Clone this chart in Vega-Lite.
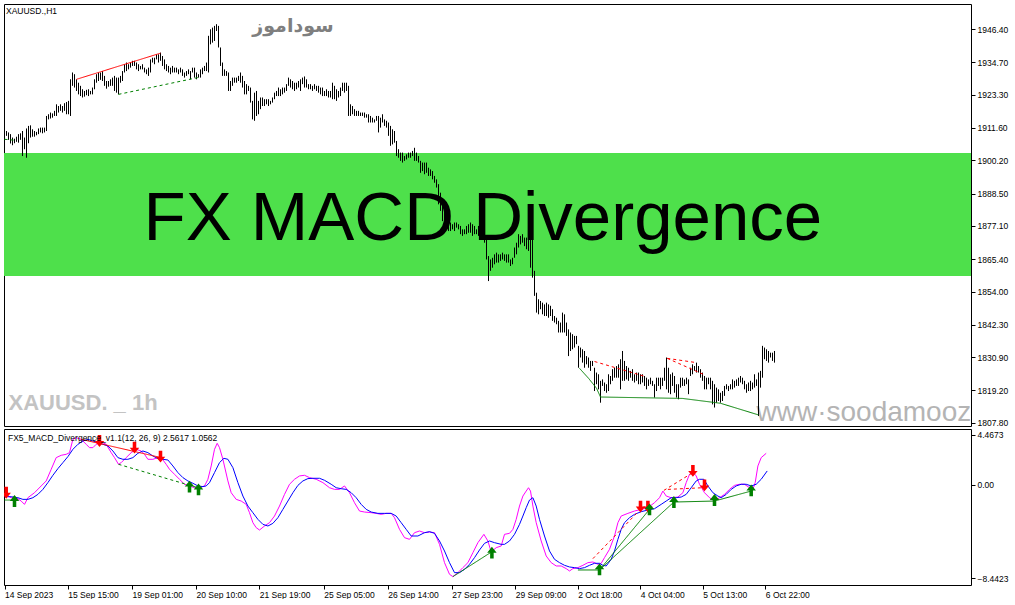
{
  "$schema": "https://vega.github.io/schema/vega-lite/v6.json",
  "background": "white",
  "padding": {"left": 3, "top": 3, "right": 0, "bottom": 0},
  "bounds": "flush",
  "spacing": 3,
  "config": {
    "view": {"stroke": "black", "strokeWidth": 1},
    "axis": {
      "labelFont": "Liberation Sans",
      "labelFontSize": 8.5,
      "labelColor": "black",
      "tickColor": "black",
      "tickSize": 4,
      "domain": false,
      "grid": false,
      "labelOverlap": false
    }
  },
  "datasets": {
    "bars": [
      {"k":0,"h":1911.1,"l":1909.4},{"k":1,"h":1910.5,"l":1908.8},{"k":2,"h":1910.0,"l":1907.4},{"k":3,"h":1909.4,"l":1906.1},
      {"k":4,"h":1908.2,"l":1905.5},{"k":5,"h":1907.8,"l":1906.2},{"k":6,"h":1908.5,"l":1906.7},{"k":7,"h":1909.4,"l":1906.4},
      {"k":8,"h":1909.7,"l":1907.4},{"k":9,"h":1910.5,"l":1901.7},{"k":10,"h":1908.2,"l":1904.1},{"k":11,"h":1911.4,"l":1901.1},
      {"k":12,"h":1912.3,"l":1906.2},{"k":13,"h":1912.5,"l":1908.2},{"k":14,"h":1911.1,"l":1908.5},{"k":15,"h":1910.5,"l":1908.5},
      {"k":16,"h":1910.2,"l":1909.0},{"k":17,"h":1911.4,"l":1909.4},{"k":18,"h":1911.7,"l":1910.0},{"k":19,"h":1911.7,"l":1909.7},
      {"k":20,"h":1911.7,"l":1910.0},{"k":21,"h":1915.8,"l":1910.5},{"k":22,"h":1916.4,"l":1914.6},{"k":23,"h":1917.0,"l":1914.9},
      {"k":24,"h":1916.7,"l":1915.2},{"k":25,"h":1917.6,"l":1915.8},{"k":26,"h":1919.9,"l":1915.8},{"k":27,"h":1919.3,"l":1917.0},
      {"k":28,"h":1919.9,"l":1917.6},{"k":29,"h":1919.3,"l":1917.0},{"k":30,"h":1920.3,"l":1917.6},{"k":31,"h":1920.7,"l":1916.4},
      {"k":32,"h":1921.1,"l":1916.4},{"k":33,"h":1928.7,"l":1915.8},{"k":34,"h":1931.1,"l":1926.4},{"k":35,"h":1930.5,"l":1925.8},
      {"k":36,"h":1928.7,"l":1924.6},{"k":37,"h":1927.5,"l":1923.4},{"k":38,"h":1926.4,"l":1922.8},{"k":39,"h":1925.2,"l":1922.3},
      {"k":40,"h":1924.6,"l":1922.6},{"k":41,"h":1925.0,"l":1923.1},{"k":42,"h":1925.2,"l":1922.8},{"k":43,"h":1924.6,"l":1923.4},
      {"k":44,"h":1925.8,"l":1923.4},{"k":45,"h":1928.7,"l":1925.2},{"k":46,"h":1930.5,"l":1927.5},{"k":47,"h":1931.1,"l":1928.1},
      {"k":48,"h":1931.1,"l":1928.5},{"k":49,"h":1931.6,"l":1928.1},{"k":50,"h":1929.9,"l":1926.4},{"k":51,"h":1928.1,"l":1925.4},
      {"k":52,"h":1928.1,"l":1926.1},{"k":53,"h":1928.7,"l":1926.4},{"k":54,"h":1929.3,"l":1926.4},{"k":55,"h":1929.9,"l":1924.6},
      {"k":56,"h":1929.3,"l":1924.0},{"k":57,"h":1929.3,"l":1923.4},{"k":58,"h":1929.9,"l":1927.5},{"k":59,"h":1931.6,"l":1928.1},
      {"k":60,"h":1934.0,"l":1931.1},{"k":61,"h":1934.6,"l":1931.6},{"k":62,"h":1934.0,"l":1932.2},{"k":63,"h":1934.6,"l":1932.8},
      {"k":64,"h":1935.2,"l":1933.4},{"k":65,"h":1935.2,"l":1933.4},{"k":66,"h":1934.6,"l":1932.2},{"k":67,"h":1934.0,"l":1931.6},
      {"k":68,"h":1933.4,"l":1932.2},{"k":69,"h":1934.0,"l":1932.2},{"k":70,"h":1932.8,"l":1931.1},{"k":71,"h":1932.2,"l":1930.5},
      {"k":72,"h":1932.8,"l":1929.9},{"k":73,"h":1935.7,"l":1931.1},{"k":74,"h":1936.3,"l":1934.6},{"k":75,"h":1936.3,"l":1934.0},
      {"k":76,"h":1937.5,"l":1935.7},{"k":77,"h":1937.5,"l":1934.6},{"k":78,"h":1938.1,"l":1935.2},{"k":79,"h":1936.9,"l":1933.4},
      {"k":80,"h":1935.7,"l":1932.2},{"k":81,"h":1934.0,"l":1931.6},{"k":82,"h":1933.4,"l":1931.1},{"k":83,"h":1932.8,"l":1930.5},
      {"k":84,"h":1933.4,"l":1931.1},{"k":85,"h":1932.8,"l":1931.1},{"k":86,"h":1932.8,"l":1931.1},{"k":87,"h":1932.2,"l":1930.5},
      {"k":88,"h":1932.8,"l":1931.1},{"k":89,"h":1932.2,"l":1929.9},{"k":90,"h":1931.1,"l":1929.3},{"k":91,"h":1931.6,"l":1929.9},
      {"k":92,"h":1932.2,"l":1930.5},{"k":93,"h":1931.6,"l":1928.7},{"k":94,"h":1932.8,"l":1931.1},{"k":95,"h":1932.8,"l":1929.3},
      {"k":96,"h":1931.1,"l":1928.7},{"k":97,"h":1930.5,"l":1929.3},{"k":98,"h":1932.2,"l":1929.3},{"k":99,"h":1932.8,"l":1930.5},
      {"k":100,"h":1933.4,"l":1931.6},{"k":101,"h":1934.6,"l":1931.6},{"k":102,"h":1944.0,"l":1931.1},{"k":103,"h":1946.3,"l":1941.0},
      {"k":104,"h":1946.9,"l":1941.6},{"k":105,"h":1947.5,"l":1942.2},{"k":106,"h":1948.1,"l":1945.7},{"k":107,"h":1947.5,"l":1939.9},
      {"k":108,"h":1939.9,"l":1933.4},{"k":109,"h":1934.6,"l":1929.9},{"k":110,"h":1932.2,"l":1929.9},{"k":111,"h":1931.6,"l":1929.9},
      {"k":112,"h":1931.1,"l":1924.6},{"k":113,"h":1928.1,"l":1924.6},{"k":114,"h":1929.3,"l":1926.4},{"k":115,"h":1929.3,"l":1927.5},
      {"k":116,"h":1929.3,"l":1927.5},{"k":117,"h":1929.9,"l":1928.1},{"k":118,"h":1931.1,"l":1927.5},{"k":119,"h":1929.9,"l":1925.8},
      {"k":120,"h":1928.1,"l":1923.4},{"k":121,"h":1927.0,"l":1923.4},{"k":122,"h":1926.4,"l":1924.6},{"k":123,"h":1925.8,"l":1920.5},
      {"k":124,"h":1921.1,"l":1914.6},{"k":125,"h":1924.0,"l":1914.1},{"k":126,"h":1924.6,"l":1915.8},{"k":127,"h":1921.1,"l":1916.4},
      {"k":128,"h":1922.3,"l":1918.2},{"k":129,"h":1922.3,"l":1919.3},{"k":130,"h":1921.7,"l":1919.3},{"k":131,"h":1921.7,"l":1919.9},
      {"k":132,"h":1921.7,"l":1919.3},{"k":133,"h":1921.1,"l":1919.9},{"k":134,"h":1922.3,"l":1920.5},{"k":135,"h":1924.0,"l":1921.7},
      {"k":136,"h":1924.6,"l":1922.8},{"k":137,"h":1925.8,"l":1922.8},{"k":138,"h":1925.2,"l":1922.8},{"k":139,"h":1925.8,"l":1923.4},
      {"k":140,"h":1925.8,"l":1924.0},{"k":141,"h":1927.0,"l":1924.6},{"k":142,"h":1929.3,"l":1926.4},{"k":143,"h":1928.7,"l":1925.8},
      {"k":144,"h":1928.1,"l":1925.2},{"k":145,"h":1927.5,"l":1924.6},{"k":146,"h":1927.5,"l":1925.2},{"k":147,"h":1928.1,"l":1925.8},
      {"k":148,"h":1928.7,"l":1924.6},{"k":149,"h":1929.3,"l":1927.0},{"k":150,"h":1929.7,"l":1925.8},{"k":151,"h":1928.7,"l":1925.8},
      {"k":152,"h":1927.0,"l":1925.2},{"k":153,"h":1927.0,"l":1925.2},{"k":154,"h":1926.4,"l":1924.6},{"k":155,"h":1927.0,"l":1925.2},
      {"k":156,"h":1926.4,"l":1924.6},{"k":157,"h":1926.4,"l":1924.0},{"k":158,"h":1925.8,"l":1923.4},{"k":159,"h":1925.8,"l":1922.8},
      {"k":160,"h":1924.6,"l":1922.8},{"k":161,"h":1925.2,"l":1922.8},{"k":162,"h":1924.6,"l":1922.3},{"k":163,"h":1924.6,"l":1922.3},
      {"k":164,"h":1927.5,"l":1921.7},{"k":165,"h":1926.4,"l":1921.7},{"k":166,"h":1925.2,"l":1921.1},{"k":167,"h":1924.6,"l":1922.3},
      {"k":168,"h":1925.8,"l":1922.8},{"k":169,"h":1927.5,"l":1924.6},{"k":170,"h":1927.5,"l":1924.0},{"k":171,"h":1927.5,"l":1924.6},
      {"k":172,"h":1926.4,"l":1915.8},{"k":173,"h":1919.9,"l":1915.8},{"k":174,"h":1919.3,"l":1916.4},{"k":175,"h":1918.2,"l":1915.8},
      {"k":176,"h":1917.6,"l":1915.8},{"k":177,"h":1917.6,"l":1915.8},{"k":178,"h":1917.0,"l":1915.8},{"k":179,"h":1917.0,"l":1915.8},
      {"k":180,"h":1917.0,"l":1915.2},{"k":181,"h":1916.4,"l":1915.2},{"k":182,"h":1916.4,"l":1913.5},{"k":183,"h":1915.8,"l":1913.5},
      {"k":184,"h":1915.2,"l":1913.5},{"k":185,"h":1914.6,"l":1913.5},{"k":186,"h":1915.8,"l":1914.1},{"k":187,"h":1915.8,"l":1910.0},
      {"k":188,"h":1915.2,"l":1911.7},{"k":189,"h":1916.4,"l":1913.5},{"k":190,"h":1914.6,"l":1912.3},{"k":191,"h":1914.1,"l":1911.7},
      {"k":192,"h":1913.5,"l":1908.8},{"k":193,"h":1912.3,"l":1905.3},{"k":194,"h":1911.1,"l":1905.8},{"k":195,"h":1910.5,"l":1906.4},
      {"k":196,"h":1907.0,"l":1901.7},{"k":197,"h":1904.1,"l":1901.1},{"k":198,"h":1902.9,"l":1900.0},{"k":199,"h":1902.9,"l":1899.4},
      {"k":200,"h":1901.7,"l":1900.0},{"k":201,"h":1902.3,"l":1900.5},{"k":202,"h":1902.9,"l":1901.1},{"k":203,"h":1902.9,"l":1901.1},
      {"k":204,"h":1903.5,"l":1901.7},{"k":205,"h":1904.6,"l":1900.0},{"k":206,"h":1902.9,"l":1900.0},{"k":207,"h":1901.7,"l":1899.4},
      {"k":208,"h":1900.0,"l":1895.8},{"k":209,"h":1899.4,"l":1896.4},{"k":210,"h":1899.4,"l":1895.3},{"k":211,"h":1899.4,"l":1895.8},
      {"k":212,"h":1897.6,"l":1894.7},{"k":213,"h":1897.0,"l":1894.7},{"k":214,"h":1896.4,"l":1893.5},{"k":215,"h":1894.7,"l":1892.3},
      {"k":216,"h":1893.5,"l":1890.6},{"k":217,"h":1891.8,"l":1884.7},{"k":218,"h":1888.8,"l":1882.4},{"k":219,"h":1885.9,"l":1878.8},
      {"k":220,"h":1882.4,"l":1877.1},{"k":221,"h":1878.8,"l":1875.9},{"k":222,"h":1877.7,"l":1875.3},{"k":223,"h":1878.3,"l":1875.3},
      {"k":224,"h":1877.7,"l":1875.9},{"k":225,"h":1878.3,"l":1875.3},{"k":226,"h":1878.3,"l":1876.5},{"k":227,"h":1877.7,"l":1875.9},
      {"k":228,"h":1877.1,"l":1874.2},{"k":229,"h":1875.9,"l":1873.6},{"k":230,"h":1875.9,"l":1874.2},{"k":231,"h":1877.1,"l":1874.2},
      {"k":232,"h":1877.7,"l":1874.7},{"k":233,"h":1878.3,"l":1874.7},{"k":234,"h":1877.7,"l":1873.6},{"k":235,"h":1877.1,"l":1874.2},
      {"k":236,"h":1875.9,"l":1874.2},{"k":237,"h":1877.1,"l":1873.6},{"k":238,"h":1876.5,"l":1873.6},{"k":239,"h":1877.1,"l":1874.7},
      {"k":240,"h":1876.5,"l":1871.2},{"k":241,"h":1873.6,"l":1865.3},{"k":242,"h":1866.5,"l":1857.7},{"k":243,"h":1865.3,"l":1861.3},
      {"k":244,"h":1865.9,"l":1862.4},{"k":245,"h":1867.1,"l":1863.6},{"k":246,"h":1867.7,"l":1864.2},{"k":247,"h":1867.1,"l":1864.2},
      {"k":248,"h":1867.1,"l":1864.8},{"k":249,"h":1867.7,"l":1865.3},{"k":250,"h":1867.1,"l":1864.8},{"k":251,"h":1867.1,"l":1864.2},
      {"k":252,"h":1867.1,"l":1864.2},{"k":253,"h":1865.3,"l":1863.0},{"k":254,"h":1865.9,"l":1863.6},{"k":255,"h":1869.5,"l":1865.9},
      {"k":256,"h":1871.2,"l":1867.1},{"k":257,"h":1874.2,"l":1869.5},{"k":258,"h":1873.6,"l":1870.6},{"k":259,"h":1874.2,"l":1871.2},
      {"k":260,"h":1873.0,"l":1870.0},{"k":261,"h":1873.0,"l":1868.9},{"k":262,"h":1874.7,"l":1868.3},{"k":263,"h":1874.2,"l":1862.4},
      {"k":264,"h":1873.0,"l":1858.9},{"k":265,"h":1861.3,"l":1852.5},{"k":266,"h":1853.6,"l":1846.6},{"k":267,"h":1851.3,"l":1846.0},
      {"k":268,"h":1850.7,"l":1847.8},{"k":269,"h":1850.1,"l":1846.0},{"k":270,"h":1849.5,"l":1845.4},{"k":271,"h":1850.1,"l":1845.4},
      {"k":272,"h":1849.5,"l":1844.8},{"k":273,"h":1849.0,"l":1845.4},{"k":274,"h":1847.8,"l":1843.7},{"k":275,"h":1845.4,"l":1843.1},
      {"k":276,"h":1844.8,"l":1842.5},{"k":277,"h":1843.7,"l":1839.6},{"k":278,"h":1843.1,"l":1839.6},{"k":279,"h":1846.6,"l":1839.6},
      {"k":280,"h":1846.0,"l":1839.6},{"k":281,"h":1843.1,"l":1838.4},{"k":282,"h":1840.7,"l":1831.3},{"k":283,"h":1839.6,"l":1833.1},
      {"k":284,"h":1839.0,"l":1833.7},{"k":285,"h":1838.4,"l":1834.3},{"k":286,"h":1838.4,"l":1835.5},{"k":287,"h":1834.9,"l":1827.2},
      {"k":288,"h":1834.3,"l":1830.8},{"k":289,"h":1833.7,"l":1829.0},{"k":290,"h":1833.1,"l":1827.2},{"k":291,"h":1831.3,"l":1828.4},
      {"k":292,"h":1830.8,"l":1827.2},{"k":293,"h":1829.6,"l":1826.1},{"k":294,"h":1829.6,"l":1827.8},{"k":295,"h":1827.2,"l":1819.0},
      {"k":296,"h":1825.5,"l":1821.4},{"k":297,"h":1824.9,"l":1819.6},{"k":298,"h":1822.6,"l":1814.9},{"k":299,"h":1823.1,"l":1820.8},
      {"k":300,"h":1822.0,"l":1819.0},{"k":301,"h":1821.4,"l":1818.4},{"k":302,"h":1824.9,"l":1819.0},{"k":303,"h":1824.3,"l":1821.4},
      {"k":304,"h":1826.7,"l":1822.6},{"k":305,"h":1827.2,"l":1823.7},{"k":306,"h":1827.8,"l":1823.7},{"k":307,"h":1828.4,"l":1823.7},
      {"k":308,"h":1830.2,"l":1819.6},{"k":309,"h":1833.1,"l":1822.6},{"k":310,"h":1829.6,"l":1822.6},{"k":311,"h":1827.8,"l":1823.1},
      {"k":312,"h":1827.2,"l":1822.6},{"k":313,"h":1826.1,"l":1823.7},{"k":314,"h":1826.7,"l":1822.6},{"k":315,"h":1824.9,"l":1822.0},
      {"k":316,"h":1825.5,"l":1822.6},{"k":317,"h":1825.5,"l":1821.4},{"k":318,"h":1824.9,"l":1821.4},{"k":319,"h":1824.9,"l":1822.0},
      {"k":320,"h":1824.3,"l":1820.8},{"k":321,"h":1823.7,"l":1819.6},{"k":322,"h":1823.1,"l":1820.8},{"k":323,"h":1823.7,"l":1821.4},
      {"k":324,"h":1822.6,"l":1820.8},{"k":325,"h":1821.4,"l":1816.7},{"k":326,"h":1823.7,"l":1819.0},{"k":327,"h":1823.7,"l":1820.8},
      {"k":328,"h":1823.7,"l":1819.6},{"k":329,"h":1823.7,"l":1820.8},{"k":330,"h":1827.2,"l":1822.6},{"k":331,"h":1830.8,"l":1819.6},
      {"k":332,"h":1827.2,"l":1818.4},{"k":333,"h":1824.9,"l":1817.9},{"k":334,"h":1825.5,"l":1820.8},{"k":335,"h":1824.3,"l":1818.4},
      {"k":336,"h":1821.4,"l":1816.7},{"k":337,"h":1821.4,"l":1816.1},{"k":338,"h":1823.7,"l":1820.2},{"k":339,"h":1823.7,"l":1820.8},
      {"k":340,"h":1823.1,"l":1820.8},{"k":341,"h":1823.7,"l":1821.4},{"k":342,"h":1823.1,"l":1817.9},{"k":343,"h":1827.2,"l":1824.3},
      {"k":344,"h":1828.4,"l":1824.9},{"k":345,"h":1827.8,"l":1826.1},{"k":346,"h":1829.0,"l":1825.5},{"k":347,"h":1827.8,"l":1825.5},
      {"k":348,"h":1826.7,"l":1823.7},{"k":349,"h":1825.5,"l":1822.6},{"k":350,"h":1824.3,"l":1819.6},{"k":351,"h":1823.7,"l":1819.6},
      {"k":352,"h":1823.7,"l":1821.4},{"k":353,"h":1823.7,"l":1819.6},{"k":354,"h":1822.6,"l":1814.3},{"k":355,"h":1821.4,"l":1813.2},
      {"k":356,"h":1820.2,"l":1814.9},{"k":357,"h":1819.6,"l":1815.5},{"k":358,"h":1818.4,"l":1814.9},{"k":359,"h":1819.0,"l":1815.5},
      {"k":360,"h":1820.8,"l":1817.3},{"k":361,"h":1821.4,"l":1819.6},{"k":362,"h":1820.8,"l":1819.0},{"k":363,"h":1821.4,"l":1819.6},
      {"k":364,"h":1823.1,"l":1819.6},{"k":365,"h":1822.6,"l":1820.2},{"k":366,"h":1823.1,"l":1820.8},{"k":367,"h":1823.7,"l":1820.8},
      {"k":368,"h":1824.3,"l":1822.0},{"k":369,"h":1823.7,"l":1821.4},{"k":370,"h":1822.6,"l":1819.6},{"k":371,"h":1821.4,"l":1818.4},
      {"k":372,"h":1822.0,"l":1819.0},{"k":373,"h":1822.6,"l":1819.0},{"k":374,"h":1822.0,"l":1819.6},{"k":375,"h":1824.9,"l":1820.2},
      {"k":376,"h":1823.1,"l":1820.8},{"k":377,"h":1825.5,"l":1810.2},{"k":378,"h":1826.1,"l":1820.2},{"k":379,"h":1834.9,"l":1823.7},
      {"k":380,"h":1834.3,"l":1830.2},{"k":381,"h":1833.7,"l":1829.6},{"k":382,"h":1833.1,"l":1829.0},{"k":383,"h":1832.5,"l":1830.8},
      {"k":384,"h":1832.5,"l":1829.6},{"k":385,"h":1833.1,"l":1829.0}
    ],
    "macd": [
      {"s":"macd","k":0,"v":-0.89},{"s":"macd","k":3.35,"v":-1.19},{"s":"macd","k":5.85,"v":-1.19},{"s":"macd","k":8.35,"v":-1.49},
      {"s":"macd","k":10,"v":-1.79},{"s":"macd","k":11.7,"v":-1.19},{"s":"macd","k":15,"v":-0.74},{"s":"macd","k":18.35,"v":-0.13},
      {"s":"macd","k":20.85,"v":0.32},{"s":"macd","k":23.35,"v":1.37},{"s":"macd","k":25.85,"v":2.42},{"s":"macd","k":28.35,"v":2.63},
      {"s":"macd","k":30.85,"v":2.72},{"s":"macd","k":32.5,"v":2.87},{"s":"macd","k":34.2,"v":4.07},{"s":"macd","k":35.85,"v":4.22},
      {"s":"macd","k":38.35,"v":4.07},{"s":"macd","k":40.85,"v":3.62},{"s":"macd","k":42.5,"v":3.32},{"s":"macd","k":44.2,"v":3.32},
      {"s":"macd","k":45.85,"v":3.62},{"s":"macd","k":48.35,"v":3.83},{"s":"macd","k":50.85,"v":3.62},{"s":"macd","k":53.35,"v":2.87},
      {"s":"macd","k":55,"v":2.42},{"s":"macd","k":57,"v":1.82},{"s":"macd","k":58.35,"v":1.97},{"s":"macd","k":60.85,"v":2.42},
      {"s":"macd","k":63.35,"v":2.87},{"s":"macd","k":65.85,"v":3.17},{"s":"macd","k":68.35,"v":3.02},{"s":"macd","k":70,"v":2.72},
      {"s":"macd","k":71.7,"v":2.27},{"s":"macd","k":74.2,"v":2.27},{"s":"macd","k":76.7,"v":2.42},{"s":"macd","k":78.35,"v":2.42},
      {"s":"macd","k":80.85,"v":1.82},{"s":"macd","k":82.5,"v":1.37},{"s":"macd","k":85,"v":0.92},{"s":"macd","k":87.5,"v":0.47},
      {"s":"macd","k":90,"v":0.02},{"s":"macd","k":92.5,"v":-0.13},{"s":"macd","k":95,"v":-0.29},{"s":"macd","k":97.5,"v":-0.29},
      {"s":"macd","k":100,"v":-0.13},{"s":"macd","k":101.7,"v":0.47},{"s":"macd","k":103.35,"v":1.67},{"s":"macd","k":105,"v":3.17},
      {"s":"macd","k":106.35,"v":3.71},{"s":"macd","k":107.5,"v":3.32},{"s":"macd","k":109.2,"v":2.27},{"s":"macd","k":111.7,"v":0.32},
      {"s":"macd","k":113.35,"v":-0.74},{"s":"macd","k":115.85,"v":-1.34},{"s":"macd","k":118.35,"v":-1.49},{"s":"macd","k":120.85,"v":-1.79},
      {"s":"macd","k":122.5,"v":-2.54},{"s":"macd","k":124.2,"v":-3.44},{"s":"macd","k":125.85,"v":-3.89},{"s":"macd","k":127.5,"v":-4.10},
      {"s":"macd","k":130,"v":-3.74},{"s":"macd","k":132.5,"v":-3.44},{"s":"macd","k":135,"v":-2.84},{"s":"macd","k":137.5,"v":-1.94},
      {"s":"macd","k":140,"v":-0.89},{"s":"macd","k":142.5,"v":0.02},{"s":"macd","k":145,"v":0.47},{"s":"macd","k":147.5,"v":0.77},
      {"s":"macd","k":150,"v":0.83},{"s":"macd","k":152.5,"v":0.62},{"s":"macd","k":155.85,"v":0.47},{"s":"macd","k":159.2,"v":0.17},
      {"s":"macd","k":162.5,"v":-0.29},{"s":"macd","k":165,"v":-0.44},{"s":"macd","k":167.5,"v":-0.44},{"s":"macd","k":170,"v":-0.13},
      {"s":"macd","k":172.5,"v":-0.74},{"s":"macd","k":175,"v":-1.64},{"s":"macd","k":177.5,"v":-2.39},{"s":"macd","k":180,"v":-2.48},
      {"s":"macd","k":183.35,"v":-2.54},{"s":"macd","k":185.85,"v":-2.60},{"s":"macd","k":188.35,"v":-2.69},{"s":"macd","k":190.85,"v":-2.60},
      {"s":"macd","k":193.35,"v":-2.60},{"s":"macd","k":195,"v":-2.99},{"s":"macd","k":197.5,"v":-4.04},{"s":"macd","k":200,"v":-4.79},
      {"s":"macd","k":202.5,"v":-4.94},{"s":"macd","k":205,"v":-4.34},{"s":"macd","k":207.5,"v":-4.19},{"s":"macd","k":210,"v":-4.34},
      {"s":"macd","k":212.5,"v":-4.28},{"s":"macd","k":215,"v":-4.34},{"s":"macd","k":217.5,"v":-5.39},{"s":"macd","k":220,"v":-7.04},
      {"s":"macd","k":222.5,"v":-8.09},{"s":"macd","k":224.2,"v":-8.30},{"s":"macd","k":226.7,"v":-7.94},{"s":"macd","k":229.2,"v":-7.49},
      {"s":"macd","k":231.7,"v":-7.04},{"s":"macd","k":234.2,"v":-6.14},{"s":"macd","k":236.7,"v":-5.24},{"s":"macd","k":239.7,"v":-4.49},
      {"s":"macd","k":241.7,"v":-5.09},{"s":"macd","k":243.35,"v":-6.08},{"s":"macd","k":245.85,"v":-5.69},{"s":"macd","k":248.35,"v":-5.54},
      {"s":"macd","k":250,"v":-4.49},{"s":"macd","k":252.5,"v":-4.40},{"s":"macd","k":254.2,"v":-4.04},{"s":"macd","k":255.85,"v":-3.14},
      {"s":"macd","k":257.5,"v":-1.94},{"s":"macd","k":259.2,"v":-1.04},{"s":"macd","k":260.85,"v":-0.59},{"s":"macd","k":262,"v":-0.29},
      {"s":"macd","k":263,"v":-0.59},{"s":"macd","k":264.2,"v":-1.94},{"s":"macd","k":265.85,"v":-3.44},{"s":"macd","k":268.35,"v":-5.09},
      {"s":"macd","k":270.85,"v":-6.44},{"s":"macd","k":273.35,"v":-7.04},{"s":"macd","k":275.85,"v":-7.34},{"s":"macd","k":278.35,"v":-7.34},
      {"s":"macd","k":280.85,"v":-7.58},{"s":"macd","k":282.5,"v":-7.79},{"s":"macd","k":284.2,"v":-7.58},{"s":"macd","k":286.7,"v":-7.49},
      {"s":"macd","k":289.2,"v":-7.28},{"s":"macd","k":291.7,"v":-7.04},{"s":"macd","k":294.2,"v":-6.98},{"s":"macd","k":296.7,"v":-7.19},
      {"s":"macd","k":298.35,"v":-7.10},{"s":"macd","k":300,"v":-6.59},{"s":"macd","k":302.5,"v":-5.84},{"s":"macd","k":305,"v":-4.64},
      {"s":"macd","k":306.7,"v":-3.44},{"s":"macd","k":308.35,"v":-2.84},{"s":"macd","k":311.7,"v":-2.60},{"s":"macd","k":315,"v":-2.39},
      {"s":"macd","k":318.35,"v":-2.24},{"s":"macd","k":321.7,"v":-2.09},{"s":"macd","k":325,"v":-1.64},{"s":"macd","k":327.5,"v":-1.19},
      {"s":"macd","k":329.2,"v":-0.59},{"s":"macd","k":330.85,"v":-1.04},{"s":"macd","k":333.35,"v":-1.19},{"s":"macd","k":336.7,"v":-1.13},
      {"s":"macd","k":339.2,"v":-0.74},{"s":"macd","k":340.85,"v":0.17},{"s":"macd","k":342.5,"v":0.92},{"s":"macd","k":344.2,"v":1.13},
      {"s":"macd","k":345.85,"v":0.77},{"s":"macd","k":347.5,"v":0.02},{"s":"macd","k":350,"v":-0.74},{"s":"macd","k":352.5,"v":-1.19},
      {"s":"macd","k":355,"v":-1.49},{"s":"macd","k":357.5,"v":-1.19},{"s":"macd","k":360,"v":-0.89},{"s":"macd","k":362.5,"v":-0.44},
      {"s":"macd","k":365,"v":-0.08},{"s":"macd","k":367.5,"v":0.02},{"s":"macd","k":370,"v":0.02},{"s":"macd","k":372.5,"v":-0.29},
      {"s":"macd","k":374.2,"v":-0.44},{"s":"macd","k":375.35,"v":0.17},{"s":"macd","k":376.7,"v":1.67},{"s":"macd","k":378.35,"v":2.42},
      {"s":"macd","k":380.85,"v":2.81},
      {"s":"signal","k":0,"v":-1.10},{"s":"signal","k":3.35,"v":-1.10},{"s":"signal","k":6.7,"v":-1.19},{"s":"signal","k":9.2,"v":-1.34},
      {"s":"signal","k":11.7,"v":-1.34},{"s":"signal","k":14.2,"v":-1.19},{"s":"signal","k":16.7,"v":-0.89},{"s":"signal","k":19.2,"v":-0.44},
      {"s":"signal","k":21.7,"v":0.17},{"s":"signal","k":24.2,"v":0.83},{"s":"signal","k":26.7,"v":1.43},{"s":"signal","k":29.2,"v":1.97},
      {"s":"signal","k":31.7,"v":2.51},{"s":"signal","k":34.2,"v":3.17},{"s":"signal","k":36.7,"v":3.62},{"s":"signal","k":39.2,"v":3.92},
      {"s":"signal","k":41.7,"v":4.07},{"s":"signal","k":44.2,"v":3.92},{"s":"signal","k":46.7,"v":3.77},{"s":"signal","k":49.2,"v":3.62},
      {"s":"signal","k":51.7,"v":3.47},{"s":"signal","k":54.2,"v":3.02},{"s":"signal","k":56.7,"v":2.42},{"s":"signal","k":59.2,"v":2.27},
      {"s":"signal","k":61.7,"v":2.27},{"s":"signal","k":64.2,"v":2.42},{"s":"signal","k":66.7,"v":2.81},{"s":"signal","k":69.2,"v":3.02},
      {"s":"signal","k":71.7,"v":2.87},{"s":"signal","k":74.2,"v":2.57},{"s":"signal","k":76.7,"v":2.33},{"s":"signal","k":79.2,"v":2.27},
      {"s":"signal","k":81.7,"v":2.21},{"s":"signal","k":84.2,"v":1.67},{"s":"signal","k":86.7,"v":1.07},{"s":"signal","k":89.2,"v":0.62},
      {"s":"signal","k":91.7,"v":0.32},{"s":"signal","k":94.2,"v":0.11},{"s":"signal","k":96.7,"v":-0.13},{"s":"signal","k":99.2,"v":-0.19},
      {"s":"signal","k":100.85,"v":-0.13},{"s":"signal","k":102.5,"v":0.17},{"s":"signal","k":105,"v":1.07},{"s":"signal","k":107.5,"v":1.97},
      {"s":"signal","k":109.7,"v":2.36},{"s":"signal","k":111.7,"v":2.27},{"s":"signal","k":114.2,"v":1.52},{"s":"signal","k":116.7,"v":0.17},
      {"s":"signal","k":119.2,"v":-1.04},{"s":"signal","k":121.7,"v":-1.94},{"s":"signal","k":124.2,"v":-2.54},{"s":"signal","k":126.7,"v":-3.14},
      {"s":"signal","k":129.2,"v":-3.59},{"s":"signal","k":131.7,"v":-3.74},{"s":"signal","k":134.2,"v":-3.50},{"s":"signal","k":136.7,"v":-2.99},
      {"s":"signal","k":139.2,"v":-2.24},{"s":"signal","k":141.7,"v":-1.49},{"s":"signal","k":144.2,"v":-0.74},{"s":"signal","k":146.7,"v":-0.08},
      {"s":"signal","k":149.2,"v":0.32},{"s":"signal","k":151.7,"v":0.53},{"s":"signal","k":154.2,"v":0.56},{"s":"signal","k":157.5,"v":0.56},
      {"s":"signal","k":160,"v":0.38},{"s":"signal","k":163.35,"v":0.02},{"s":"signal","k":165.85,"v":-0.29},{"s":"signal","k":168.35,"v":-0.38},
      {"s":"signal","k":170.85,"v":-0.44},{"s":"signal","k":173.35,"v":-0.74},{"s":"signal","k":175.85,"v":-1.19},{"s":"signal","k":178.35,"v":-1.79},
      {"s":"signal","k":180.85,"v":-2.24},{"s":"signal","k":183.35,"v":-2.48},{"s":"signal","k":186.7,"v":-2.60},{"s":"signal","k":190,"v":-2.60},
      {"s":"signal","k":193.35,"v":-2.60},{"s":"signal","k":195.85,"v":-2.84},{"s":"signal","k":198.35,"v":-3.44},{"s":"signal","k":200.85,"v":-4.04},
      {"s":"signal","k":203.35,"v":-4.64},{"s":"signal","k":206.7,"v":-4.64},{"s":"signal","k":210,"v":-4.34},{"s":"signal","k":212.5,"v":-4.25},
      {"s":"signal","k":215,"v":-4.40},{"s":"signal","k":217.5,"v":-5.09},{"s":"signal","k":220,"v":-5.99},{"s":"signal","k":222.5,"v":-7.04},
      {"s":"signal","k":225,"v":-7.94},{"s":"signal","k":227.5,"v":-7.94},{"s":"signal","k":230,"v":-7.64},{"s":"signal","k":232.5,"v":-7.19},
      {"s":"signal","k":235,"v":-6.59},{"s":"signal","k":237.5,"v":-5.90},{"s":"signal","k":240,"v":-5.30},{"s":"signal","k":242.5,"v":-5.09},
      {"s":"signal","k":245,"v":-5.24},{"s":"signal","k":248.35,"v":-5.39},{"s":"signal","k":250,"v":-5.39},{"s":"signal","k":252.5,"v":-5.09},
      {"s":"signal","k":255,"v":-4.49},{"s":"signal","k":257.5,"v":-3.59},{"s":"signal","k":259.2,"v":-2.84},{"s":"signal","k":260.85,"v":-2.09},
      {"s":"signal","k":262.5,"v":-1.40},{"s":"signal","k":264.2,"v":-1.19},{"s":"signal","k":265.85,"v":-1.94},{"s":"signal","k":267.5,"v":-3.14},
      {"s":"signal","k":270,"v":-4.64},{"s":"signal","k":272.5,"v":-5.99},{"s":"signal","k":275,"v":-6.74},{"s":"signal","k":277.5,"v":-7.04},
      {"s":"signal","k":280,"v":-7.28},{"s":"signal","k":282.5,"v":-7.43},{"s":"signal","k":285,"v":-7.49},{"s":"signal","k":287.5,"v":-7.58},
      {"s":"signal","k":290,"v":-7.49},{"s":"signal","k":292.5,"v":-7.28},{"s":"signal","k":295,"v":-7.10},{"s":"signal","k":297.5,"v":-7.10},
      {"s":"signal","k":299.2,"v":-7.28},{"s":"signal","k":300.85,"v":-7.34},{"s":"signal","k":303.35,"v":-6.74},{"s":"signal","k":305,"v":-5.99},
      {"s":"signal","k":306.7,"v":-4.94},{"s":"signal","k":308.35,"v":-4.04},{"s":"signal","k":310,"v":-3.44},{"s":"signal","k":312.5,"v":-2.99},
      {"s":"signal","k":315,"v":-2.69},{"s":"signal","k":318.35,"v":-2.45},{"s":"signal","k":321.7,"v":-2.30},{"s":"signal","k":325,"v":-2.18},
      {"s":"signal","k":328.35,"v":-1.79},{"s":"signal","k":330.85,"v":-1.49},{"s":"signal","k":333.35,"v":-1.19},{"s":"signal","k":335.85,"v":-1.19},
      {"s":"signal","k":338.35,"v":-1.13},{"s":"signal","k":340.85,"v":-0.89},{"s":"signal","k":343.35,"v":-0.29},{"s":"signal","k":345.85,"v":0.32},
      {"s":"signal","k":347.5,"v":0.47},{"s":"signal","k":349.7,"v":0.47},{"s":"signal","k":351.7,"v":-0.13},{"s":"signal","k":354.2,"v":-0.74},
      {"s":"signal","k":356.7,"v":-1.04},{"s":"signal","k":358.35,"v":-1.19},{"s":"signal","k":360.85,"v":-0.89},{"s":"signal","k":363.35,"v":-0.44},
      {"s":"signal","k":365.85,"v":-0.13},{"s":"signal","k":368.35,"v":0.02},{"s":"signal","k":370.85,"v":0.02},{"s":"signal","k":373.35,"v":-0.13},
      {"s":"signal","k":375.85,"v":0.02},{"s":"signal","k":378.35,"v":0.47},{"s":"signal","k":381.35,"v":1.22}
    ],
    "divPrice": [
      {"id":"p1","dir":"bear","kind":"regular","k":36,"p":1928.7},{"id":"p1","dir":"bear","kind":"regular","k":78,"p":1937.9},
      {"id":"p2","dir":"bull","kind":"hidden","k":57,"p":1923.4},{"id":"p2","dir":"bull","kind":"hidden","k":98,"p":1929.5},
      {"id":"p3","dir":"bull","kind":"hidden","k":0,"p":1907.6},{"id":"p3","dir":"bull","kind":"hidden","k":6,"p":1907.2},
      {"id":"p4","dir":"bull","kind":"regular","k":287.5,"p":1827.0},{"id":"p4","dir":"bull","kind":"regular","k":292,"p":1823.5},
      {"id":"p4","dir":"bull","kind":"regular","k":296,"p":1820.0},{"id":"p4","dir":"bull","kind":"regular","k":298,"p":1816.9},
      {"id":"p4","dir":"bull","kind":"regular","k":339,"p":1816.4},{"id":"p4","dir":"bull","kind":"regular","k":358,"p":1814.7},
      {"id":"p4","dir":"bull","kind":"regular","k":377,"p":1810.6},
      {"id":"p5","dir":"bear","kind":"hidden","k":295,"p":1829.4},{"id":"p5","dir":"bear","kind":"hidden","k":320.9,"p":1824.0},
      {"id":"p6","dir":"bear","kind":"hidden","k":331.4,"p":1830.5},{"id":"p6","dir":"bear","kind":"hidden","k":346,"p":1829.0},
      {"id":"p7","dir":"bear","kind":"hidden","k":331.4,"p":1830.5},{"id":"p7","dir":"bear","kind":"hidden","k":350,"p":1824.7}
    ],
    "divMacd": [
      {"id":"m1","dir":"bear","kind":"regular","k":38.35,"v":4.07},{"id":"m1","dir":"bear","kind":"regular","k":78.35,"v":2.42},
      {"id":"m2","dir":"bull","kind":"hidden","k":57,"v":1.82},{"id":"m2","dir":"bull","kind":"hidden","k":96.7,"v":-0.29},
      {"id":"m3","dir":"bull","kind":"regular","k":0,"v":-1.40},{"id":"m3","dir":"bull","kind":"regular","k":5,"v":-1.40},
      {"id":"m4","dir":"bull","kind":"regular","k":224.2,"v":-8.30},{"id":"m4","dir":"bull","kind":"regular","k":243.5,"v":-6.08},
      {"id":"m5","dir":"bull","kind":"regular","k":286.7,"v":-7.70},{"id":"m5","dir":"bull","kind":"regular","k":297.5,"v":-7.70},
      {"id":"m6","dir":"bull","kind":"regular","k":297.5,"v":-7.70},{"id":"m6","dir":"bull","kind":"regular","k":322.5,"v":-2.24},
      {"id":"m7","dir":"bull","kind":"regular","k":297.5,"v":-7.70},{"id":"m7","dir":"bull","kind":"regular","k":334.7,"v":-1.58},
      {"id":"m8","dir":"bull","kind":"regular","k":334.7,"v":-1.58},{"id":"m8","dir":"bull","kind":"regular","k":355,"v":-1.49},
      {"id":"m9","dir":"bull","kind":"regular","k":355,"v":-1.49},{"id":"m9","dir":"bull","kind":"regular","k":373.35,"v":-0.59},
      {"id":"m10","dir":"bear","kind":"hidden","k":294.2,"v":-6.68},{"id":"m10","dir":"bear","kind":"hidden","k":316.7,"v":-2.48},
      {"id":"m11","dir":"bear","kind":"hidden","k":329.7,"v":-0.53},{"id":"m11","dir":"bear","kind":"hidden","k":343.35,"v":0.98},
      {"id":"m12","dir":"bear","kind":"hidden","k":331.7,"v":-0.44},{"id":"m12","dir":"bear","kind":"hidden","k":349.2,"v":-0.29}
    ],
    "arrows": [
      {"dir":"bear","k":0.85,"v":-0.74},{"dir":"bear","k":47.5,"v":3.92},{"dir":"bear","k":65,"v":3.32},{"dir":"bear","k":78,"v":2.51},
      {"dir":"bear","k":318,"v":-1.99},{"dir":"bear","k":321.7,"v":-1.99},{"dir":"bear","k":344.2,"v":1.22},{"dir":"bear","k":350,"v":-0.08},
      {"dir":"bull","k":5,"v":-1.49},{"dir":"bull","k":92.5,"v":-0.19},{"dir":"bull","k":97,"v":-0.44},{"dir":"bull","k":243.7,"v":-6.14},
      {"dir":"bull","k":297.5,"v":-7.64},{"dir":"bull","k":322.5,"v":-2.24},{"dir":"bull","k":334.7,"v":-1.58},{"dir":"bull","k":355,"v":-1.40},
      {"dir":"bull","k":373.35,"v":-0.53}
    ]
  },
  "vconcat": [
    {
      "width": 967,
      "height": 422,
      "layer": [
        {
          "data": {"values": [{}]},
          "mark": {"type": "rect", "color": "#4EE04B"},
          "encoding": {
            "x": {"datum": -0.25, "type": "quantitative", "scale": {"domain": [-0.25, 483.25], "nice": false, "zero": false}, "axis": null},
            "x2": {"datum": 483.25},
            "y": {"datum": 1902.8, "type": "quantitative", "scale": {"domain": [1806.7, 1955.2], "nice": false, "zero": false}},
            "y2": {"datum": 1859.5}
          }
        },
        {
          "data": {"values": [{}]},
          "mark": {"type": "text", "text": "XAUUSD. _ 1h", "font": "Liberation Sans", "fontSize": 22, "fontWeight": "bold", "color": "#C3C3C3", "align": "left", "baseline": "alphabetic"},
          "encoding": {
            "x": {"datum": 2.0, "type": "quantitative", "scale": {"domain": [-0.25, 483.25], "nice": false, "zero": false}, "axis": null},
            "y": {"datum": 1812.4, "type": "quantitative", "scale": {"domain": [1806.7, 1955.2], "nice": false, "zero": false}}
          }
        },
        {
          "data": {"values": [{}]},
          "mark": {"type": "text", "text": "www·soodamooz·com", "font": "Liberation Sans", "fontSize": 28, "color": "#B4B4B4", "align": "left", "baseline": "alphabetic", "clip": true},
          "encoding": {
            "x": {"datum": 376.0, "type": "quantitative", "scale": {"domain": [-0.25, 483.25], "nice": false, "zero": false}, "axis": null},
            "y": {"datum": 1808.5, "type": "quantitative", "scale": {"domain": [1806.7, 1955.2], "nice": false, "zero": false}}
          }
        },
        {
          "data": {"values": [{}]},
          "mark": {"type": "text", "text": "سوداموز", "font": "DejaVu Sans", "fontSize": 19, "fontWeight": "bold", "color": "#7F7F7F", "align": "center", "baseline": "middle"},
          "encoding": {
            "x": {"datum": 144.25, "type": "quantitative", "scale": {"domain": [-0.25, 483.25], "nice": false, "zero": false}, "axis": null},
            "y": {"datum": 1947.5, "type": "quantitative", "scale": {"domain": [1806.7, 1955.2], "nice": false, "zero": false}}
          }
        },
        {
          "data": {"values": [{}]},
          "mark": {"type": "text", "text": "FX MACD Divergence", "font": "Liberation Sans", "fontSize": 69, "color": "black", "align": "left", "baseline": "alphabetic"},
          "encoding": {
            "x": {"datum": 69.5, "type": "quantitative", "scale": {"domain": [-0.25, 483.25], "nice": false, "zero": false}, "axis": null},
            "y": {"datum": 1872.2, "type": "quantitative", "scale": {"domain": [1806.7, 1955.2], "nice": false, "zero": false}}
          }
        },
        {
          "data": {"name": "bars"},
          "mark": {"type": "rule", "color": "black", "strokeWidth": 1},
          "encoding": {
            "x": {"field": "k", "type": "quantitative", "scale": {"domain": [-0.25, 483.25], "nice": false, "zero": false}, "axis": null},
            "y": {
              "field": "l",
              "type": "quantitative",
              "scale": {"domain": [1806.7, 1955.2], "nice": false, "zero": false},
              "axis": {
                "orient": "right",
                "title": null,
                "values": [1807.8, 1819.2, 1830.9, 1842.3, 1854.0, 1865.4, 1877.1, 1888.5, 1900.2, 1911.6, 1923.3, 1934.7, 1946.4],
                "tickCount": 30,
                "format": ".2f",
                "labelPadding": 2,
                "labelOverlap": false
              }
            },
            "y2": {"field": "h"}
          }
        },
        {
          "data": {"name": "divPrice"},
          "mark": {"type": "line", "strokeWidth": 1, "clip": true},
          "encoding": {
            "x": {"field": "k", "type": "quantitative", "scale": {"domain": [-0.25, 483.25], "nice": false, "zero": false}, "axis": null},
            "y": {"field": "p", "type": "quantitative", "scale": {"domain": [1806.7, 1955.2], "nice": false, "zero": false}},
            "detail": {"field": "id"},
            "color": {"field": "dir", "type": "nominal", "scale": {"domain": ["bear", "bull"], "range": ["#FF0000", "#008000"]}, "legend": null},
            "strokeDash": {"field": "kind", "type": "nominal", "scale": {"domain": ["regular", "hidden"], "range": [[1, 0], [3, 3]]}, "legend": null}
          }
        },
        {
          "data": {"values": [{}]},
          "mark": {"type": "text", "text": "XAUUSD.,H1", "font": "Liberation Sans", "fontSize": 8.5, "color": "black", "align": "left", "baseline": "middle"},
          "encoding": {
            "x": {"datum": 0.75, "type": "quantitative", "scale": {"domain": [-0.25, 483.25], "nice": false, "zero": false}, "axis": null},
            "y": {"datum": 1952.7, "type": "quantitative", "scale": {"domain": [1806.7, 1955.2], "nice": false, "zero": false}}
          }
        }
      ]
    },
    {
      "width": 967,
      "height": 156,
      "layer": [
        {
          "data": {"name": "macd"},
          "transform": [{"filter": "datum.s == 'macd'"}],
          "mark": {"type": "line", "color": "#FF00FF", "strokeWidth": 1, "clip": true},
          "encoding": {
            "x": {
              "field": "k",
              "type": "quantitative",
              "scale": {"domain": [-0.25, 483.25], "nice": false, "zero": false},
              "axis": {
                "orient": "bottom",
                "title": null,
                "values": [0, 31.6, 63.75, 95.75, 127.4, 159.6, 191.6, 223.6, 255.4, 286.6, 317.9, 349.1, 380.4],
                "tickCount": 30,
                "labelExpr": "['14 Sep 2023','15 Sep 15:00','19 Sep 01:00','20 Sep 10:00','21 Sep 19:00','25 Sep 05:00','26 Sep 14:00','27 Sep 23:00','29 Sep 09:00','2 Oct 18:00','4 Oct 04:00','5 Oct 13:00','6 Oct 22:00'][indexof([0, 31.6, 63.75, 95.75, 127.4, 159.6, 191.6, 223.6, 255.4, 286.6, 317.9, 349.1, 380.4], datum.value)]",
                "labelAlign": "left",
                "labelBaseline": "top",
                "labelDx": 2,
                "labelPadding": 1,
                "labelOverlap": false,
                "labelBound": false,
                "labelFlush": false
              }
            },
            "y": {
              "field": "v",
              "type": "quantitative",
              "scale": {"domain": [-9.054, 5.0], "nice": false, "zero": false},
              "axis": {
                "orient": "right",
                "title": null,
                "values": [-8.4423, 0, 4.4673],
                "tickCount": 10,
                "labelExpr": "datum.value == 0 ? '0.00' : format(datum.value, '.4f')",
                "labelPadding": 2,
                "labelOverlap": false
              }
            }
          }
        },
        {
          "data": {"name": "macd"},
          "transform": [{"filter": "datum.s == 'signal'"}],
          "mark": {"type": "line", "color": "#0000FF", "strokeWidth": 1, "clip": true},
          "encoding": {
            "x": {"field": "k", "type": "quantitative", "scale": {"domain": [-0.25, 483.25], "nice": false, "zero": false}},
            "y": {"field": "v", "type": "quantitative", "scale": {"domain": [-9.054, 5.0], "nice": false, "zero": false}}
          }
        },
        {
          "data": {"name": "divMacd"},
          "mark": {"type": "line", "strokeWidth": 1, "clip": true},
          "encoding": {
            "x": {"field": "k", "type": "quantitative", "scale": {"domain": [-0.25, 483.25], "nice": false, "zero": false}},
            "y": {"field": "v", "type": "quantitative", "scale": {"domain": [-9.054, 5.0], "nice": false, "zero": false}},
            "detail": {"field": "id"},
            "color": {"field": "dir", "type": "nominal", "scale": {"domain": ["bear", "bull"], "range": ["#FF0000", "#008000"]}, "legend": null},
            "strokeDash": {"field": "kind", "type": "nominal", "scale": {"domain": ["regular", "hidden"], "range": [[1, 0], [3, 3]]}, "legend": null}
          }
        },
        {
          "data": {"name": "arrows"},
          "mark": {"type": "point", "filled": true, "opacity": 1, "size": 140, "clip": true},
          "encoding": {
            "x": {"field": "k", "type": "quantitative", "scale": {"domain": [-0.25, 483.25], "nice": false, "zero": false}},
            "y": {"field": "v", "type": "quantitative", "scale": {"domain": [-9.054, 5.0], "nice": false, "zero": false}},
            "color": {"field": "dir", "type": "nominal", "scale": {"domain": ["bear", "bull"], "range": ["#FF0000", "#008000"]}, "legend": null},
            "shape": {
              "field": "dir",
              "type": "nominal",
              "scale": {
                "domain": ["bear", "bull"],
                "range": ["M0,1L-0.8,0L-0.3,0L-0.3,-1L0.3,-1L0.3,0L0.8,0Z", "M0,-1L-0.8,0L-0.3,0L-0.3,1L0.3,1L0.3,0L0.8,0Z"]
              },
              "legend": null
            }
          }
        },
        {
          "data": {"values": [{}]},
          "mark": {"type": "text", "text": "FX5_MACD_Divergence_v1.1(12, 26, 9) 2.5617 1.0562", "font": "Liberation Sans", "fontSize": 8.5, "color": "black", "align": "left", "baseline": "middle"},
          "encoding": {
            "x": {"datum": 1.75, "type": "quantitative", "scale": {"domain": [-0.25, 483.25], "nice": false, "zero": false}},
            "y": {"datum": 4.19, "type": "quantitative", "scale": {"domain": [-9.054, 5.0], "nice": false, "zero": false}}
          }
        }
      ]
    }
  ]
}
